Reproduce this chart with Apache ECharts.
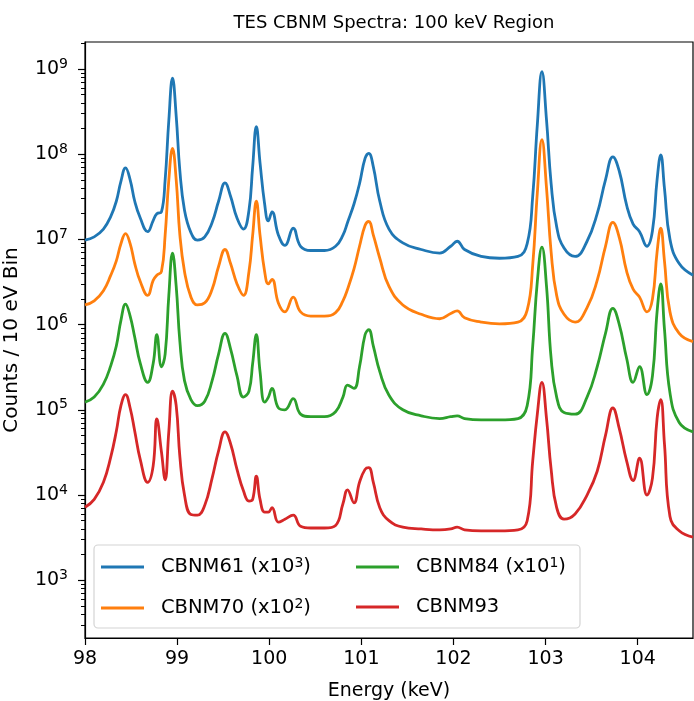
<!DOCTYPE html>
<html>
<head>
<meta charset="utf-8">
<script src="https://cdn.jsdelivr.net/npm/echarts@6/dist/echarts.min.js"></script>
<style>
  html, body { margin: 0; padding: 0; background: #fff; }
  #chart { width: 694px; height: 701px; }
</style>
</head>
<body>
<div id="chart"></div>
<script>
// energy grid (keV), denser around the peaks
const energy = [
  98.00, 98.10, 98.20, 98.28, 98.34, 98.39, 98.44, 98.49, 98.54, 98.60,
  98.68, 98.74, 98.78, 98.83, 98.87, 98.91, 98.95, 98.99, 99.03, 99.08,
  99.15, 99.22, 99.30, 99.38, 99.45, 99.52, 99.58, 99.65, 99.72, 99.78,
  99.82, 99.86, 99.90, 99.95, 99.99, 100.03, 100.10, 100.17, 100.26, 100.34, 100.45,
  100.60, 100.72, 100.80, 100.85, 100.92, 100.98, 101.04, 101.08, 101.13, 101.20,
  101.30, 101.45, 101.65, 101.85, 101.97, 102.04, 102.12, 102.30, 102.50, 102.70,
  102.80, 102.86, 102.91, 102.96, 103.01, 103.06, 103.12, 103.20, 103.32, 103.45,
  103.56, 103.65, 103.73, 103.80, 103.88, 103.95, 104.02, 104.10, 104.16, 104.21,
  104.25, 104.29, 104.35, 104.45, 104.60
];

// counts per 10 eV bin (already scaled as in the legend)
const cbnm61 = [
  9.8e6, 1.07e7, 1.32e7, 1.86e7, 2.8e7, 4.8e7, 6.9e7, 5.0e7, 2.8e7, 1.78e7,
  1.23e7, 1.66e7, 2.0e7, 2.1e7, 5.0e7, 2.5e8, 7.8e8, 2.8e8, 6.3e7, 2.2e7,
  1.2e7, 9.8e6, 1.07e7, 1.58e7, 2.8e7, 4.6e7, 3.2e7, 1.78e7, 1.32e7, 2.2e7,
  7.1e7, 2.1e8, 7.9e7, 2.6e7, 1.65e7, 2.1e7, 1.12e7, 8.5e6, 1.35e7, 8.3e6, 7.4e6,
  7.4e6, 8.3e6, 1.12e7, 1.58e7, 2.6e7, 4.5e7, 8.9e7, 1.02e8, 7.1e7, 2.8e7,
  1.32e7, 9.1e6, 7.6e6, 6.9e6, 8.3e6, 9.5e6, 7.6e6, 6.3e6, 6.0e6, 6.3e6,
  8.9e6, 3.2e7, 2.2e8, 9.3e8, 2.5e8, 4.5e7, 1.41e7, 7.9e6, 6.3e6, 9.5e6,
  2.0e7, 5.0e7, 9.3e7, 6.3e7, 2.5e7, 1.51e7, 1.23e7, 8.3e6, 1.26e7, 5.0e7,
  9.8e7, 4.0e7, 1.0e7, 5.2e6, 3.8e6
];
const cbnm70 = [
  1.7e6, 1.9e6, 2.5e6, 3.8e6, 5.6e6, 8.9e6, 1.17e7, 8.9e6, 5.2e6, 3.2e6,
  2.2e6, 3.3e6, 3.8e6, 4.2e6, 1.12e7, 5.0e7, 1.17e8, 5.0e7, 1.12e7, 4.2e6,
  2.1e6, 1.7e6, 1.8e6, 2.6e6, 4.8e6, 7.6e6, 5.2e6, 3.0e6, 2.2e6, 4.2e6,
  1.12e7, 2.8e7, 1.12e7, 4.2e6, 3.0e6, 3.4e6, 1.78e6, 1.41e6, 2.1e6, 1.41e6, 1.26e6,
  1.26e6, 1.38e6, 1.9e6, 2.6e6, 4.5e6, 8.3e6, 1.45e7, 1.62e7, 1.12e7, 6.0e6,
  2.8e6, 1.7e6, 1.32e6, 1.17e6, 1.35e6, 1.45e6, 1.2e6, 1.07e6, 1.02e6, 1.07e6,
  1.48e6, 5.0e6, 3.5e7, 1.48e8, 4.0e7, 7.1e6, 2.2e6, 1.32e6, 1.07e6, 1.58e6,
  3.3e6, 8.3e6, 1.58e7, 1.05e7, 4.2e6, 2.6e6, 2.1e6, 1.41e6, 2.0e6, 7.1e6,
  1.35e7, 5.6e6, 1.41e6, 7.9e5, 6.3e5
];
const cbnm84 = [
  1.23e5, 1.41e5, 2.0e5, 3.3e5, 5.6e5, 1.12e6, 1.74e6, 1.26e6, 7.1e5, 3.5e5,
  2.1e5, 3.5e5, 7.6e5, 3.2e5, 4.5e5, 2.2e6, 6.9e6, 2.8e6, 6.3e5, 2.2e5,
  1.32e5, 1.12e5, 1.26e5, 2.2e5, 4.5e5, 7.9e5, 5.2e5, 2.5e5, 1.41e5, 1.66e5,
  3.5e5, 7.6e5, 2.8e5, 1.23e5, 1.4e5, 1.78e5, 1.05e5, 1.0e5, 1.35e5, 8.9e4, 8.3e4,
  8.3e4, 9.5e4, 1.41e5, 1.95e5, 1.78e5, 3.2e5, 7.6e5, 8.7e5, 5.6e5, 2.8e5,
  1.48e5, 1.0e5, 8.5e4, 7.9e4, 8.3e4, 8.5e4, 7.9e4, 7.6e4, 7.6e4, 7.9e4,
  1.12e5, 5.6e5, 3.2e6, 8.1e6, 2.8e6, 4.0e5, 1.41e5, 9.3e4, 8.9e4, 1.41e5,
  3.2e5, 7.9e5, 1.55e6, 1.0e6, 4.0e5, 2.1e5, 3.2e5, 1.51e5, 2.5e5, 1.41e6,
  3.0e6, 8.9e5, 1.58e5, 7.1e4, 5.5e4
];
const cbnm93 = [
  7.2e3, 8.9e3, 1.41e4, 2.8e4, 5.6e4, 1.12e5, 1.51e5, 1.05e5, 5.6e4, 2.6e4,
  1.41e4, 2.2e4, 7.8e4, 3.2e4, 1.51e4, 5.6e4, 1.66e5, 1.12e5, 2.8e4, 1.0e4,
  5.9e3, 5.8e3, 7.6e3, 1.58e4, 3.3e4, 5.5e4, 4.0e4, 2.0e4, 1.12e4, 8.5e3,
  8.9e3, 1.66e4, 8.9e3, 6.3e3, 6.3e3, 7.1e3, 4.8e3, 5.2e3, 5.8e3, 4.3e3, 4.1e3,
  4.1e3, 4.4e3, 7.9e3, 1.15e4, 8.1e3, 1.41e4, 2.0e4, 2.1e4, 1.41e4, 7.1e3,
  5.0e3, 4.2e3, 4.0e3, 3.9e3, 4.0e3, 4.2e3, 3.9e3, 3.8e3, 3.8e3, 3.9e3,
  5.0e3, 2.5e4, 8.9e4, 2.1e5, 7.9e4, 2.0e4, 7.1e3, 5.2e3, 6.0e3, 1.0e4,
  1.9e4, 5.0e4, 1.05e5, 6.0e4, 2.5e4, 1.48e4, 2.7e4, 1.0e4, 1.58e4, 7.9e4,
  1.32e5, 4.0e4, 5.6e3, 3.8e3, 3.2e3
];

const names = ['CBNM61', 'CBNM70', 'CBNM84', 'CBNM93'];
const scales = ['3', '2', '1', null];   // legend superscripts, x10^n
const colors = ['#1f77b4', '#ff7f0e', '#2ca02c', '#d62728'];

const xTicks = [98, 99, 100, 101, 102, 103, 104];
const yTicks = [1e3, 1e4, 1e5, 1e6, 1e7, 1e8, 1e9];
// minor ticks 2..9 x 10^n, like matplotlib's log locator
const yMinor = [];
for (let n = 2; n <= 9; n++) {
    for (let m = 2; m <= 9; m++) yMinor.push(m * Math.pow(10, n));
}

const FONT = 'DejaVu Sans';
const yMin = 210, yMax = 2.07e9;

function pairs(ys) {
    return energy.map((e, i) => [e, ys[i]]);
}

const chart = echarts.init(document.getElementById('chart'), null, { renderer: 'canvas' });

const seriesData = [cbnm61, cbnm70, cbnm84, cbnm93];
const series = seriesData.map((d, i) => ({
    name: names[i],
    type: 'line',
    data: pairs(d),
    showSymbol: false,
    symbol: 'none',
    smooth: 0.45,
    lineStyle: { color: colors[i], width: 2.8 },
    itemStyle: { color: colors[i] },
    z: 2 + i * 0.1
}));

const legendBase = {
    orient: 'vertical',
    top: 556,
    padding: 0,
    icon: 'rect',
    itemWidth: 43,
    itemHeight: 3,
    itemGap: 20,
    z: 6,
    formatter: function (name) {
        const p = scales[names.indexOf(name)];
        return p ? '{n|' + name + ' (x10}{s|' + p + '}{n|)}' : '{n|' + name + '}';
    },
    textStyle: {
        padding: [0, 0, 0, 12],
        rich: {
            n: { fontFamily: FONT, fontSize: 19.5, color: '#000', lineHeight: 22 },
            s: { fontFamily: FONT, fontSize: 14, color: '#000', verticalAlign: 'top', lineHeight: 14 }
        }
    }
};

const option = {
    animation: false,
    backgroundColor: '#fff',
    color: colors,
    title: {
        text: 'TES CBNM Spectra: 100 keV Region',
        left: 389,
        textAlign: 'center',
        top: 9,
        textStyle: { fontFamily: FONT, fontSize: 18, fontWeight: 'normal', color: '#000' }
    },
    grid: {
        left: 85, right: 1, top: 42, bottom: 63,
        containLabel: false,
        outerBoundsMode: 'none',
        show: true, borderColor: '#000', borderWidth: 1.2, backgroundColor: 'transparent'
    },
    legend: [
        Object.assign({}, legendBase, { left: 101, data: [names[0], names[1]] }),
        Object.assign({}, legendBase, { left: 356, data: [names[2], names[3]] })
    ],
    graphic: [{
        type: 'rect',
        shape: { x: 94, y: 545, width: 486, height: 83, r: 4 },
        style: { fill: 'rgba(255,255,255,0.8)', stroke: '#d4d4d4', lineWidth: 1.2 },
        z: 5
    }],
    xAxis: {
        type: 'value',
        min: 98,
        max: 104.6,
        name: 'Energy (keV)',
        nameLocation: 'middle',
        nameGap: 44,
        nameTextStyle: { fontFamily: FONT, fontSize: 19, color: '#000' },
        axisLine: { show: true, lineStyle: { color: '#000', width: 1.2 } },
        axisTick: { show: true, inside: false, length: 7, customValues: xTicks, lineStyle: { color: '#000', width: 1.2 } },
        axisLabel: { customValues: xTicks, margin: 12, fontFamily: FONT, fontSize: 19, color: '#000' },
        splitLine: { show: false }
    },
    yAxis: [{
        type: 'log',
        logBase: 10,
        min: yMin,
        max: yMax,
        name: 'Counts / 10 eV Bin',
        nameLocation: 'middle',
        nameGap: 63,
        nameTextStyle: { fontFamily: FONT, fontSize: 20, color: '#000' },
        axisLine: { show: true, lineStyle: { color: '#000', width: 1.2 } },
        axisTick: { show: true, length: 7, customValues: yTicks, lineStyle: { color: '#000', width: 1.2 } },
        axisLabel: {
            customValues: yTicks,
            margin: 17,
            formatter: function (v) {
                const e = Math.round(Math.log10(v));
                return '{b|10}{s|' + e + '}';
            },
            rich: {
                b: { fontFamily: FONT, fontSize: 19, color: '#000', lineHeight: 24 },
                s: { fontFamily: FONT, fontSize: 14, color: '#000', verticalAlign: 'top', lineHeight: 13 }
            }
        },
        splitLine: { show: false }
    }, {
        type: 'log',
        logBase: 10,
        min: yMin,
        max: yMax,
        position: 'left',
        axisLine: { show: false },
        axisTick: { show: true, length: 4, customValues: yMinor, lineStyle: { color: '#000', width: 1 } },
        axisLabel: { show: false },
        splitLine: { show: false }
    }],
    series: series
};

chart.setOption(option);
</script>
</body>
</html>
